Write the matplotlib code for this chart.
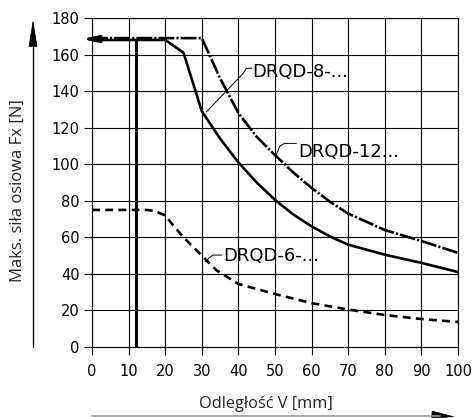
import matplotlib
matplotlib.use("Agg")
import matplotlib.pyplot as plt
from matplotlib.lines import Line2D
from matplotlib.patches import FancyArrowPatch

# ---- data ----
x_ticks = [0, 10, 20, 30, 40, 50, 60, 70, 80, 90, 100]
y_ticks = [0, 20, 40, 60, 80, 100, 120, 140, 160, 180]

x_drqd8 = [0, 20, 25, 30, 35, 40, 45, 50, 55, 60, 65, 70, 80, 90, 100]
y_drqd8 = [168, 168, 161, 129, 114, 101, 90, 80.5, 72.5, 66, 60.5, 56, 50.5, 46, 41]

x_drqd12 = [0, 30, 35, 40, 45, 50, 55, 60, 65, 70, 80, 90, 100]
y_drqd12 = [169, 169, 147, 128, 115, 105, 95.5, 87, 79.5, 73, 64, 58, 51.5]

x_drqd6 = [0, 15, 17, 20, 22, 25, 28, 30, 34, 40, 50, 60, 70, 80, 90, 100]
y_drqd6 = [75, 75, 74.5, 72, 67, 60, 54, 50, 42, 34.5, 29, 24, 20.5, 17.5, 15.3, 13.7]

labels = ["DRQD-8-...", "DRQD-12...", "DRQD-6-..."]
stroke_limit = 12      # vertical limit line [mm]
force_limit = 168.5    # horizontal arrow level [N]

fig = plt.figure(figsize=(4.76, 4.18), dpi=100)
ax = fig.add_axes([92/476, 1-347/418, (458-92)/476, (347-18)/418])

ax.set_xlim(0, 100)
ax.set_ylim(0, 180)
ax.set_xticks(x_ticks)
ax.set_yticks(y_ticks)
ax.grid(True, color="black", linewidth=0.8)
ax.set_axisbelow(True)
for s in ax.spines.values():
    s.set_linewidth(0.8)
ax.tick_params(direction="out", length=6, width=0.8, labelsize=10.5, pad=3)
ax.tick_params(axis="x", pad=6)

lw = 1.9
ax.plot(x_drqd8, y_drqd8, color="black", lw=lw, solid_joinstyle="round")
ax.plot(x_drqd12, y_drqd12, color="black", lw=lw, linestyle=(0, (6, 0.8, 0.8, 0.8)))
ax.plot(x_drqd6, y_drqd6, color="black", lw=lw, linestyle=(0, (3, 2)))

ax.plot([stroke_limit, stroke_limit], [0, force_limit - 0.5], color="black", lw=2.2)
ax.annotate("", xy=(-2.7, force_limit), xytext=(4, force_limit),
            arrowprops=dict(arrowstyle="-|>,head_length=0.9,head_width=0.2",
                            color="black", lw=2, shrinkA=0, shrinkB=0),
            annotation_clip=False)

# labels with leaders
tk = dict(fontsize=13, va="center", ha="left", color="black")
ax.text(43.9, 150.4, labels[0], **tk)
ax.plot([31.3, 41.3, 42.2, 43.6], [128.7, 149.7, 152.5, 152.5], color="black", lw=0.7)
ax.text(56.3, 106.8, labels[1], **tk)
ax.plot([50.3, 51.3, 52.6, 55.8], [105.0, 109.8, 111.4, 111.4], color="black", lw=0.7)
ax.text(35.9, 49.9, labels[2], **tk)
ax.plot([30.9, 32.2, 33.1, 35.4], [46.7, 49.1, 50.3, 50.3], color="black", lw=0.7)

# axis arrows and labels
fig.add_artist(Line2D([33/476, 33/476], [1-347/418, 1-30/418], color="black", lw=0.9))
fig.add_artist(FancyArrowPatch((33/476, 1-44/418), (33/476, 1-17/418),
               transform=fig.transFigure, arrowstyle="-|>,head_length=8,head_width=1.3",
               color="black", lw=0.5, mutation_scale=2.2))
fig.add_artist(Line2D([92/476, 440/476], [1-416/418, 1-416/418], color="#999999", lw=1.2))
fig.add_artist(FancyArrowPatch((434/476, 1-415/418), (458/476, 1-417/418),
               transform=fig.transFigure, arrowstyle="-|>,head_length=7,head_width=1.2",
               color="black", lw=0.5, mutation_scale=2.2))

fig.text(18/476, 1-191/418, "Maks. siła osiowa Fx [N]", rotation=90, ha="center", va="center",
         fontsize=12, family="Open Sans", color="#222222")
fig.text(266/476, 1-404/418, "Odległość V [mm]", ha="center", va="center",
         fontsize=11.8, family="Open Sans", color="#222222")

fig.savefig("out.png", dpi=100)
